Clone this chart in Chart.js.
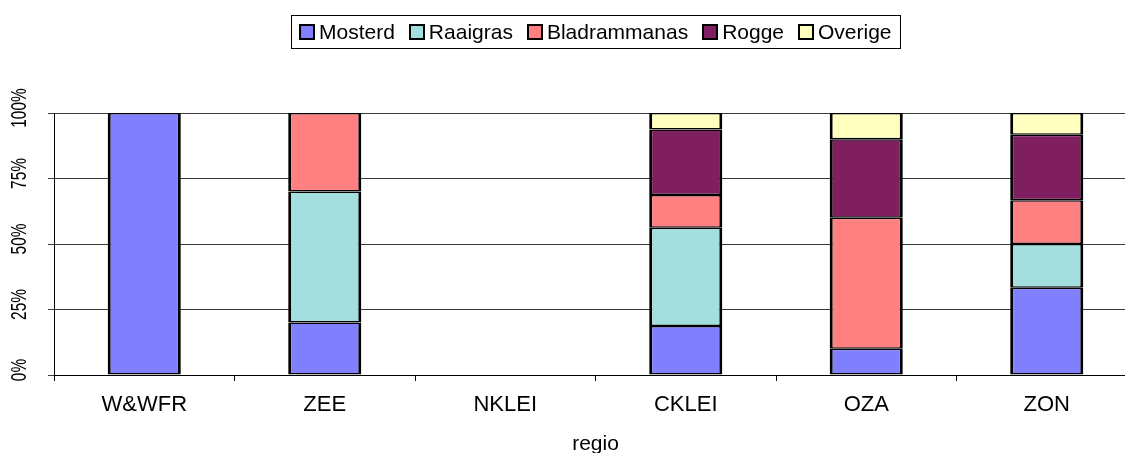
<!DOCTYPE html>
<html>
<head>
<meta charset="utf-8">
<script src="https://cdn.jsdelivr.net/npm/chart.js@4/dist/chart.umd.min.js"></script>
<style>
  html, body { margin: 0; padding: 0; background: #fff; overflow: hidden; width: 1125px; height: 453px; }
  canvas { display: block; }
</style>
</head>
<body>
<canvas id="c" width="1190" height="457"></canvas>
<script>
// Share of each green-manure crop per region (percent of the region's total)
const regions      = ['W&WFR', 'ZEE', 'NKLEI', 'CKLEI', 'OZA', 'ZON'];
const mosterd      = [100, 20, 0, 18.75, 10, 33.3];
const raaigras     = [0,   50, 0, 37.5,  0,  16.7];
const bladrammanas = [0,   30, 0, 12.5,  50, 16.7];
const rogge        = [0,   0,  0, 25,    30, 25];
const overige      = [0,   0,  0, 6.25,  10, 8.3];
const seriesNames  = ['Mosterd', 'Raaigras', 'Bladrammanas', 'Rogge', 'Overige'];
const seriesColors = ['#8080ff', '#a3dfdf', '#ff8080', '#7f1f5f', '#ffffc0'];
const yTickValues  = [0, 25, 50, 75, 100];
const xAxisTitle   = 'regio';

const FONT = '"Liberation Sans", Arial, sans-serif';
const seriesValues = [mosterd, raaigras, bladrammanas, rogge, overige];

// Vertical percentage labels next to the value axis
const yLabels = {
  id: 'yLabels',
  afterDraw(chart) {
    const s = chart.scales.y;
    const ctx = chart.ctx;
    ctx.save();
    ctx.font = '22px ' + FONT;
    ctx.fillStyle = '#000';
    ctx.textAlign = 'center';
    ctx.textBaseline = 'middle';
    yTickValues.forEach(v => {
      const y = s.getPixelForValue(v) - 5;
      ctx.save();
      ctx.translate(20, y);
      ctx.rotate(-Math.PI / 2);
      ctx.scale(0.7, 1);
      ctx.fillText(v + '%', 0, 0);
      ctx.restore();
    });
    ctx.restore();
  }
};

// Boxed legend row centred above the plot
const boxedLegend = {
  id: 'boxedLegend',
  afterDraw(chart) {
    const ctx = chart.ctx;
    ctx.save();
    ctx.font = '21px ' + FONT;
    const sq = 16, gapText = 4, gapItem = 14, pad = 8, top = 15, h = 33;
    const items = chart.data.datasets.map(d => ({
      label: d.label, color: d.backgroundColor, w: ctx.measureText(d.label).width
    }));
    const total = pad * 2 + items.reduce((a, it) => a + sq + gapText + it.w, 0) + gapItem * (items.length - 1);
    let x = Math.round(chart.width / 2 - total / 2);
    ctx.strokeStyle = '#000';
    ctx.lineWidth = 1;
    ctx.strokeRect(x + 0.5, top + 0.5, Math.round(total), h);
    x += pad;
    const cy = top + h / 2 + 0.5;
    ctx.textBaseline = 'middle';
    ctx.textAlign = 'left';
    items.forEach(it => {
      const sx = Math.round(x), sy = Math.round(cy - sq / 2);
      ctx.fillStyle = it.color;
      ctx.fillRect(sx, sy, sq, sq);
      ctx.lineWidth = 2;
      ctx.strokeStyle = '#000';
      ctx.strokeRect(sx + 1, sy + 1, sq - 2, sq - 2);
      ctx.fillStyle = '#000';
      ctx.fillText(it.label, x + sq + gapText, cy + 1);
      x += sq + gapText + it.w + gapItem;
    });
    ctx.restore();
  }
};

new Chart(document.getElementById('c'), {
  type: 'bar',
  data: {
    labels: regions,
    datasets: seriesNames.map((name, i) => ({
      label: name,
      data: seriesValues[i],
      backgroundColor: seriesColors[i],
      borderColor: '#000',
      borderWidth: { top: 1.5, bottom: 1.5, left: 3, right: 3 },
      borderSkipped: false,
      inflateAmount: 0,
      barPercentage: 0.405,
      categoryPercentage: 1
    }))
  },
  options: {
    responsive: false,
    animation: false,
    layout: { padding: { top: 113, left: 0, right: 53, bottom: 0 } },
    plugins: {
      legend: { display: false },
      tooltip: { enabled: false }
    },
    scales: {
      x: {
        stacked: true,
        grid: { drawOnChartArea: false, drawTicks: true, tickLength: 6, color: '#000', offset: true },
        border: { color: '#000', width: 1 },
        ticks: { color: '#000', font: { family: FONT, size: 22 }, padding: 11, maxRotation: 0, autoSkip: false },
        title: { display: true, text: xAxisTitle, color: '#000', font: { family: FONT, size: 21 }, padding: { top: 0, bottom: 0 } },
        afterFit(s) { s.height = 82; }
      },
      y: {
        stacked: true,
        min: 0,
        max: 100,
        ticks: { display: false, stepSize: 25 },
        grid: { color: '#3a3a3a', lineWidth: 1, drawTicks: true, tickLength: 6 },
        border: { color: '#000', width: 1 },
        afterFit(s) { s.width = 54; }
      }
    }
  },
  plugins: [yLabels, boxedLegend]
});
</script>
</body>
</html>
